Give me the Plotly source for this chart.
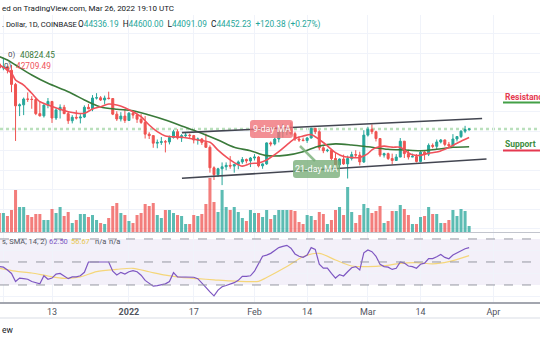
import pandas as pd
import plotly.graph_objects as go

W, H = 540, 340
first_day = "2021-11-30"

# ---- daily candles (Nov 30 2021 .. Mar 26 2022) ----
opens = [57800, 56950, 57200, 56500, 53600, 49200, 49400, 50600, 50550, 50500,
         47600, 47150, 49350, 50100, 46700, 48350, 48900, 47600, 46150, 46850,
         46700, 46900, 48900, 48600, 50800, 50850, 50400, 50800, 50700, 47500,
         46500, 47100, 46200, 47700, 47300, 46450, 45800, 43400, 43100, 41550,
         41700, 41850, 41800, 42700, 43900, 42600, 43100, 43200, 43100, 42200,
         42400, 41700, 40700, 36500, 35100, 36300, 36700, 37000, 36850, 37200,
         37700, 38200, 37900, 38500, 38700, 36900, 37300, 41600, 41400, 42400,
         43850, 44100, 44400, 43500, 42400, 42200, 42100, 42600, 44600, 43900,
         40600, 40000, 40100, 38400, 37100, 38300, 37300, 38400, 39200, 39100,
         37700, 43200, 44400, 43900, 42500, 39100, 39400, 38400, 38000, 38700,
         41950, 39400, 38700, 38800, 37800, 39700, 39300, 41100, 40900, 41800,
         42200, 41300, 41000, 42400, 42900, 44000, 44336.19]
highs = [59200, 59050, 57400, 57600, 53900, 49700, 50900, 51950, 51200, 50800,
         50100, 49500, 50800, 50200, 48700, 49500, 49400, 48000, 47300, 48300,
         47500, 49300, 49600, 51400, 51800, 51200, 51300, 52100, 50700, 48100,
         47900, 48500, 47900, 47900, 47600, 47500, 47100, 43800, 43100, 42300,
         42800, 42200, 43100, 44300, 44400, 43400, 43800, 43500, 43200, 42700,
         42600, 43500, 41100, 36800, 36500, 37600, 37600, 38900, 37200, 38000,
         38700, 38400, 38700, 39300, 38900, 37400, 41700, 41900, 42700, 44500,
         45500, 44800, 45800, 43900, 43000, 42700, 42800, 44700, 44600, 44200,
         40900, 40400, 40100, 39500, 38400, 39200, 39000, 39800, 40100, 39800,
         44200, 44900, 45400, 44100, 42500, 39600, 39600, 39400, 39300, 42600,
         42000, 40200, 39400, 39300, 39900, 39900, 41500, 41500, 42300, 42400,
         42300, 41800, 43400, 42900, 44200, 45100, 44600.00]
lows = [55900, 56500, 55850, 52000, 42000, 47100, 47300, 50000, 48600, 47300,
        47000, 46800, 48700, 45700, 46300, 46600, 47500, 45500, 45600, 46400,
        45600, 46700, 48500, 48100, 50500, 50200, 49500, 50500, 47300, 46100,
        46000, 45700, 46200, 46600, 45700, 45500, 42500, 42400, 40600, 40500,
        41200, 39650, 41300, 42500, 42300, 41800, 42600, 42600, 41500, 41250,
        41200, 40600, 35500, 34000, 34600, 32950, 36000, 36300, 35500, 36200,
        37300, 37400, 36650, 38000, 36600, 36300, 37100, 40900, 41100, 41700,
        42700, 43200, 43200, 42000, 41800, 41900, 41600, 42500, 43400, 40100,
        39500, 39700, 38000, 36800, 36400, 37100, 34300, 38000, 38600, 37000,
        37500, 42900, 43400, 41900, 38700, 38600, 38100, 37200, 37900, 38700,
        38500, 38200, 38700, 37600, 37600, 38100, 38900, 40500, 40200, 41500,
        40900, 40600, 40900, 41900, 42600, 43600, 44091.09]
closes = [56950, 57200, 56500, 53600, 49200, 49400, 50600, 50550, 50500, 47600,
          47150, 49350, 50100, 46700, 48350, 48900, 47600, 46150, 46850, 46700,
          46900, 48900, 48600, 50800, 50850, 50400, 50800, 50700, 47500, 46500,
          47100, 46200, 47700, 47300, 46450, 45800, 43400, 43100, 41550, 41700,
          41850, 41800, 42700, 43900, 42600, 43100, 43200, 43100, 42200, 42400,
          41700, 40700, 36500, 35100, 36300, 36700, 37000, 36850, 37200, 37700,
          38200, 37900, 38500, 38700, 36900, 37300, 41600, 41400, 42400, 43850,
          44100, 44400, 43500, 42400, 42200, 42100, 42600, 44600, 43900, 40600,
          40000, 40100, 38400, 37100, 38300, 37300, 38400, 39200, 39100, 37700,
          43200, 44400, 43900, 42500, 39100, 39400, 38400, 38000, 38700, 41950,
          39400, 38700, 38800, 37800, 39700, 39300, 41100, 40900, 41800, 42200,
          41300, 41000, 42400, 42900, 44000, 44336, 44452.23]
volumes = [19, 19, 16, 22, 42, 25, 25, 17, 15, 18,
           18, 12, 12, 23, 19, 25, 16, 20, 9, 12,
           18, 18, 15, 17, 12, 9, 8, 14, 26, 29,
           19, 17, 11, 9, 17, 19, 28, 26, 29, 17,
           14, 22, 22, 19, 17, 16, 8, 8, 17, 16,
           18, 28, 54, 30, 20, 42, 25, 22, 25, 20,
           14, 11, 22, 19, 19, 15, 22, 13, 17, 22,
           22, 22, 22, 21, 10, 8, 17, 16, 12, 20,
           18, 8, 12, 22, 25, 17, 45, 20, 9, 17,
           28, 24, 19, 21, 26, 9, 11, 21, 21, 27,
           23, 17, 8, 8, 15, 16, 25, 18, 18, 9,
           9, 12, 22, 16, 23, 21, 6]
rsi = [46, 45.5, 43, 40, 33, 36, 35.5, 35, 33, 31.7,
       31, 38, 35, 36, 39.5, 40, 37.5, 35.5, 37, 37,
       38, 41, 50, 50, 50, 49.5, 50, 50, 42, 38.7,
       41, 39.5, 41.5, 42.5, 41.5, 38.5, 34, 31.5, 29, 29.5,
       30.5, 31, 33, 40.7, 37, 37, 37, 37, 36.7, 35.5,
       32, 28, 24, 20.5, 25.5, 28.5, 29.5, 30.5, 32, 34,
       37.5, 37.5, 38, 42, 48.8, 55, 56, 57.5, 60, 62.5,
       63.5, 64.5, 62, 57, 55, 54, 56, 62.5, 61, 48,
       44.6, 44.6, 40, 36, 39, 37.8, 41.5, 45, 46, 43,
       58, 60.5, 59, 55, 48, 46, 45.5, 43.5, 44.5, 50,
       49, 46.5, 46, 44.5, 48, 49, 53, 53, 54.6, 56.5,
       54, 52.8, 56, 58, 59.5, 61.5, 62.5]

ma9_dates = ["2021-11-30", "2021-12-03", "2021-12-04", "2021-12-06", "2021-12-08", "2021-12-10",
             "2021-12-12", "2021-12-17", "2021-12-21", "2021-12-23", "2021-12-25", "2021-12-27",
             "2021-12-29", "2021-12-31", "2022-01-02", "2022-01-04", "2022-01-06", "2022-01-08",
             "2022-01-10", "2022-01-14", "2022-01-18", "2022-01-21", "2022-01-23", "2022-01-25",
             "2022-01-27", "2022-01-29", "2022-01-31", "2022-02-02", "2022-02-04", "2022-02-07",
             "2022-02-09", "2022-02-11", "2022-02-13", "2022-02-15", "2022-02-17", "2022-02-19",
             "2022-02-21", "2022-02-23", "2022-02-25", "2022-02-27", "2022-03-01", "2022-03-02",
             "2022-03-03", "2022-03-05", "2022-03-07", "2022-03-09", "2022-03-10", "2022-03-11",
             "2022-03-12", "2022-03-14", "2022-03-16", "2022-03-18", "2022-03-20", "2022-03-22",
             "2022-03-24", "2022-03-26"]
ma9_vals = [57600, 55900, 54500, 53470, 51770, 50050,
            49370, 48000, 47670, 48550, 49020, 49580,
            49370, 48820, 48000, 46970, 45270, 43900,
            43020, 42750, 42200, 41720, 40130, 38730,
            37560, 36840, 37370, 37500, 38100, 39800,
            41180, 42500, 43000, 43300, 42300, 41000,
            39600, 38800, 38600, 38600, 39400, 40170,
            40630, 40940, 40730, 40700, 40150, 39570,
            39160, 39050, 39490, 39720, 40320, 41080,
            41960, 42709.49]
ma21_dates = ["2021-11-30", "2021-12-02", "2021-12-04", "2021-12-08", "2021-12-12", "2021-12-17",
              "2021-12-21", "2021-12-23", "2021-12-25", "2021-12-29", "2022-01-02", "2022-01-06",
              "2022-01-10", "2022-01-14", "2022-01-18", "2022-01-23", "2022-01-27", "2022-01-31",
              "2022-02-04", "2022-02-09", "2022-02-13", "2022-02-17", "2022-02-21", "2022-02-25",
              "2022-03-01", "2022-03-06", "2022-03-10", "2022-03-14", "2022-03-18", "2022-03-22",
              "2022-03-26"]
ma21_vals = [59300, 58600, 57570, 55520, 53820, 52100,
             50400, 49600, 48950, 48490, 48200, 47320,
             46300, 45070, 43900, 42200, 40700, 40000,
             39000, 39100, 39800, 40970, 41400, 41170,
             40800, 40290, 40150, 40000, 40290, 40700,
             40824.45]
rsi_ma_dates = ["2021-11-30", "2021-12-04", "2021-12-08", "2021-12-12", "2021-12-16", "2021-12-20",
                "2021-12-24", "2021-12-29", "2022-01-02", "2022-01-06", "2022-01-10", "2022-01-14",
                "2022-01-18", "2022-01-22", "2022-01-26", "2022-01-30", "2022-02-02", "2022-02-04",
                "2022-02-09", "2022-02-13", "2022-02-17", "2022-02-21", "2022-02-25", "2022-03-01",
                "2022-03-05", "2022-03-09", "2022-03-13", "2022-03-17", "2022-03-21", "2022-03-26"]
rsi_ma_vals = [44.6, 42, 40.4, 37.8, 35.8, 37,
               41.6, 43.6, 44.5, 41.5, 38.5, 36.5,
               35.5, 34.5, 33.5, 33, 33.2, 36.5,
               46, 54.6, 57.5, 51.7, 46.5, 46,
               46.8, 48.8, 49.4, 48.3, 50.3, 55.5]

# ---- drawn channel lines (date, price) ----
upper_dates = ["2022-01-14 02:00", "2022-03-29 05:00"]
upper_prices = [43700, 46600]
lower_dates = ["2022-01-14 02:00", "2022-03-30 07:00"]
lower_prices = [34350, 38300]
last_price = 44452.23

tick_dates = ["2021-12-01", "2021-12-13", "2022-01-01", "2022-01-17", "2022-02-01",
              "2022-02-14", "2022-03-01", "2022-03-14", "2022-04-01"]
tick_labels = ["Dec", "13", "<b>2022</b>", "17", "Feb", "14", "Mar", "14", "Apr"]

dates = pd.date_range(first_day, periods=len(closes), freq="D")
assert len(opens) == len(highs) == len(lows) == len(closes) == len(volumes) == len(rsi)


def px(x):
    return x / W


def py(y):
    return 1 - y / H


FONT = "Roboto, Arial, sans-serif"
GREEN = "#26a69a"
RED = "#ef5350"

fig = go.Figure()

fig.add_trace(go.Candlestick(
    x=dates, open=opens, high=highs, low=lows, close=closes,
    increasing=dict(line=dict(color=GREEN, width=1), fillcolor=GREEN),
    decreasing=dict(line=dict(color=RED, width=1), fillcolor=RED),
    whiskerwidth=0, hoverinfo="skip", xaxis="x", yaxis="y"))

fig.add_trace(go.Scatter(x=ma21_dates, y=ma21_vals, mode="lines",
                         line=dict(color="#3a7a3a", width=1.6, shape="spline", smoothing=0.8),
                         hoverinfo="skip", xaxis="x", yaxis="y"))
fig.add_trace(go.Scatter(x=ma9_dates, y=ma9_vals, mode="lines",
                         line=dict(color="#f0515a", width=1.6, shape="spline", smoothing=0.8),
                         hoverinfo="skip", xaxis="x", yaxis="y"))
fig.add_trace(go.Scatter(x=upper_dates, y=upper_prices, mode="lines",
                         line=dict(color="#434651", width=1.6), hoverinfo="skip", xaxis="x", yaxis="y"))
fig.add_trace(go.Scatter(x=lower_dates, y=lower_prices, mode="lines",
                         line=dict(color="#434651", width=1.6), hoverinfo="skip", xaxis="x", yaxis="y"))

vol_colors = ["rgba(38,166,154,0.75)" if c >= o else "rgba(239,83,80,0.75)"
              for o, c in zip(opens, closes)]
fig.add_trace(go.Bar(x=dates, y=volumes, marker=dict(color=vol_colors, line=dict(width=0)),
                     hoverinfo="skip", xaxis="x", yaxis="y3"))

fig.add_trace(go.Scatter(x=rsi_ma_dates, y=rsi_ma_vals, mode="lines",
                         line=dict(color="#f5d67a", width=1.2, shape="spline", smoothing=0.8),
                         hoverinfo="skip", xaxis="x2", yaxis="y2"))
fig.add_trace(go.Scatter(x=dates, y=rsi, mode="lines",
                         line=dict(color="#7e57c2", width=1.2),
                         hoverinfo="skip", xaxis="x2", yaxis="y2"))

d0 = pd.Timestamp("2021-12-01")
x_range = [d0 + pd.Timedelta(days=-0.84), d0 + pd.Timedelta(days=132.5)]

grid = "#f0f3fa"
fig.update_layout(
    width=W, height=H, margin=dict(l=0, r=0, t=0, b=0),
    paper_bgcolor="white", plot_bgcolor="white", showlegend=False,
    font=dict(family=FONT, color="#131722"),
    xaxis=dict(domain=[0, 1], anchor="y", type="date", range=x_range,
               tickvals=tick_dates, showticklabels=False, showgrid=True, gridcolor=grid,
               zeroline=False, showline=False, rangeslider=dict(visible=False), ticks=""),
    xaxis2=dict(domain=[0, 1], anchor="y2", type="date", range=x_range, matches="x",
                tickvals=tick_dates, ticktext=tick_labels, showgrid=True, gridcolor=grid,
                tickfont=dict(size=9, color="#50535e", family=FONT), ticks="",
                showline=True, linecolor="#a3a6af", linewidth=1.5, zeroline=False),
    yaxis=dict(domain=[py(232), py(15)], range=[23337, 67822], dtick=4000, tick0=0,
               showgrid=True, gridcolor=grid, showticklabels=False, zeroline=False, ticks=""),
    yaxis3=dict(overlaying="y", range=[0, 217], visible=False, showgrid=False),
    yaxis2=dict(domain=[py(302), py(233)], range=[15.2, 75.2], tickvals=[20, 40, 60],
                showgrid=True, gridcolor=grid, showticklabels=False, zeroline=False, ticks=""),
    bargap=0.25,
)

shapes = []
# RSI band and levels
shapes.append(dict(type="rect", xref="paper", yref="y2", x0=0, x1=1, y0=30, y1=70,
                   fillcolor="rgba(126,87,194,0.09)", line=dict(width=0), layer="below"))
for lvl in (70, 50, 30):
    shapes.append(dict(type="line", xref="paper", yref="y2", x0=0, x1=1, y0=lvl, y1=lvl,
                       line=dict(color="#9598a1", width=1, dash="dash")))
# pane separators
shapes.append(dict(type="line", xref="paper", yref="paper", x0=0, x1=1, y0=py(232.5), y1=py(232.5),
                   line=dict(color="#c2c5cd", width=1)))
shapes.append(dict(type="line", xref="paper", yref="paper", x0=0, x1=1, y0=py(318), y1=py(318),
                   line=dict(color="#e6e8ee", width=1.5)))
# current price dotted line
shapes.append(dict(type="line", xref="paper", yref="y", x0=0, x1=1, y0=last_price, y1=last_price,
                   line=dict(color="rgba(102,187,106,0.45)", width=2.5, dash="dot"), layer="below"))
# Resistance / Support underlines
shapes.append(dict(type="line", xref="paper", yref="paper", x0=px(503), x1=1, y0=py(102.5), y1=py(102.5),
                   line=dict(color="#43a047", width=1.8)))
shapes.append(dict(type="line", xref="paper", yref="paper", x0=px(503), x1=1, y0=py(150.5), y1=py(150.5),
                   line=dict(color="#e53950", width=1.8)))


def rounded(x0, y0, x1, y1, r, fill):
    p = (f"M {px(x0 + r)} {py(y0)} L {px(x1 - r)} {py(y0)} Q {px(x1)} {py(y0)} {px(x1)} {py(y0 + r)} "
         f"L {px(x1)} {py(y1 - r)} Q {px(x1)} {py(y1)} {px(x1 - r)} {py(y1)} "
         f"L {px(x0 + r)} {py(y1)} Q {px(x0)} {py(y1)} {px(x0)} {py(y1 - r)} "
         f"L {px(x0)} {py(y0 + r)} Q {px(x0)} {py(y0)} {px(x0 + r)} {py(y0)} Z")
    return dict(type="path", xref="paper", yref="paper", path=p, fillcolor=fill,
                line=dict(width=0), layer="above")


shapes.append(dict(type="line", xref="paper", yref="paper", x0=px(300), y0=py(146), x1=px(315), y1=py(161),
                   line=dict(color="rgba(120,175,120,0.8)", width=2.5)))
shapes.append(rounded(250, 120, 293, 138, 3, "rgba(240,112,118,0.78)"))
shapes.append(rounded(293, 160, 340, 178, 3, "rgba(118,172,118,0.78)"))
fig.update_layout(shapes=shapes)

ann = []


def text(x, y, s, anchor="left", size=8.5, color="#131722", bold=False):
    ann.append(dict(xref="paper", yref="paper", x=px(x), y=py(y), text=(f"<b>{s}</b>" if bold else s),
                    showarrow=False, xanchor=anchor, yanchor="middle",
                    font=dict(size=size, color=color, family=FONT)))


# texts as they appear in the (left-cropped) screenshot
text(0, 8, "ed on TradingView.com, Mar 26, 2022 19:10 UTC", size=8)
text(0, 25, ". Dollar, 1D, COINBASE", size=7.6)
t = "#26a69a"
ohlc = (f"O<span style='color:{t}'>44336.19</span>  H<span style='color:{t}'>44600.00</span>  "
        f"L<span style='color:{t}'>44091.09</span>  C<span style='color:{t}'>44452.23</span>  "
        f"<span style='color:{t}'>+120.38 (+0.27%)</span>")
text(76, 25, ohlc, size=8.3)
text(6, 55, "0)", size=8, color="#50535e")
text(18, 55, "40824.45", size=8.3, color="#3a7a3a")
text(2, 66, "0)", size=8, color="#50535e")
text(14, 66, "42709.49", size=8.3, color="#f0515a")
text(0, 241, "s, SMA, 14, 2)", size=7.5, color="#50535e")
text(47, 241, "62.50", size=7.5, color="#7e57c2")
text(69, 241, "56.67", size=7.5, color="#e8c64e")
text(93, 241, "n/a", size=7.5, color="#50535e")
text(107, 241, "n/a", size=7.5, color="#50535e")
text(0, 330, "ew", size=8.5, color="#131722")
text(503, 97, "Resistance", size=8.5, color="#e53950", bold=True)
text(503, 144, "Support", size=8.5, color="#3d8c40", bold=True)
text(271.5, 129, "9-day MA", anchor="center", size=9, color="white")
text(316.5, 169, "21-day MA", anchor="center", size=9, color="white")
fig.update_layout(annotations=ann)

fig.write_html("out.html")
